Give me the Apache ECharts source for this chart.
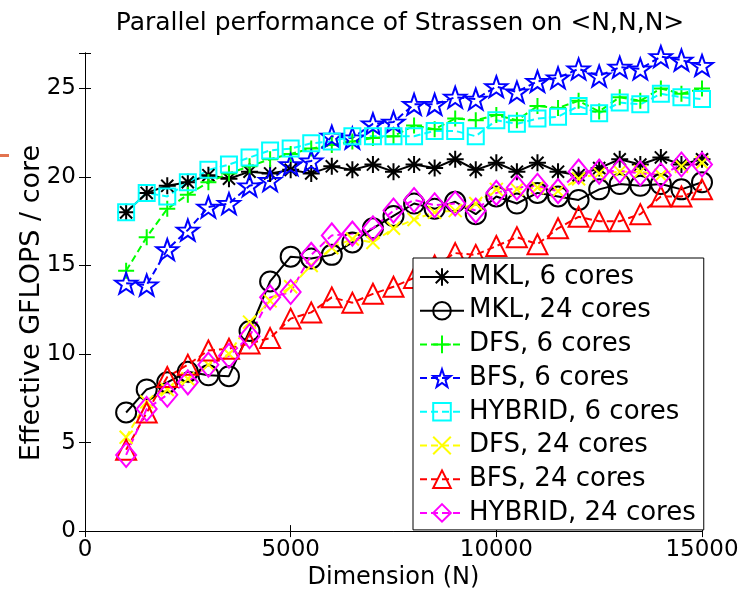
<!DOCTYPE html>
<html>
<head>
<meta charset="utf-8">
<script src="https://cdn.jsdelivr.net/npm/echarts@6/dist/echarts.min.js"></script>
<style>
  html, body { margin: 0; padding: 0; background: #fff; }
  #chart { width: 744px; height: 595px; }
</style>
</head>
<body>
<div id="chart"></div>
<script>
// matrix dimension N
var dims = [1000, 1500, 2000, 2500, 3000, 3500, 4000, 4500, 5000, 5500, 6000, 6500, 7000, 7500,
  8000, 8500, 9000, 9500, 10000, 10500, 11000, 11500, 12000, 12500, 13000, 13500, 14000, 14500, 15000];

// effective GFLOPS / core
var mkl6 = [18.0, 19.1, 19.5, 19.7, 20.1, 19.9, 20.3, 20.2, 20.4, 20.2, 20.6, 20.4, 20.7, 20.3,
  20.7, 20.5, 21.0, 20.4, 20.8, 20.3, 20.8, 20.3, 20.1, 20.5, 21.0, 20.7, 21.1, 20.7, 21.0];
var mkl24 = [6.7, 8.0, 8.4, 9.0, 8.8, 8.75, 11.3, 14.1, 15.5, 15.4, 15.6, 16.3, 17.1, 17.8,
  18.5, 18.2, 18.6, 17.9, 18.9, 18.5, 19.1, 18.9, 18.7, 19.3, 19.6, 19.5, 19.6, 19.3, 19.7];
var dfs6 = [14.7, 16.6, 18.2, 19.0, 19.7, 20.2, 20.6, 21.0, 21.3, 21.6, 21.8, 22.0, 22.2, 22.3,
  22.9, 22.7, 23.3, 23.2, 23.5, 23.2, 24.0, 23.9, 24.3, 23.7, 24.5, 24.3, 25.0, 24.7, 25.0];
var bfs6 = [14.0, 13.9, 15.9, 17.0, 18.3, 18.5, 19.5, 19.8, 20.7, 20.9, 22.3, 22.2, 23.0, 23.1,
  24.1, 24.1, 24.5, 24.4, 25.1, 24.8, 25.4, 25.6, 26.1, 25.7, 26.2, 26.1, 26.8, 26.6, 26.3];
var hybrid6 = [18.0, 19.1, 18.9, 19.7, 20.4, 20.7, 21.1, 21.5, 21.6, 21.9, 22.0, 22.3, 22.3, 22.3,
  22.3, 22.6, 22.6, 22.3, 23.2, 23.0, 23.3, 23.4, 24.0, 23.6, 24.2, 24.1, 24.7, 24.5, 24.4];
var dfs24 = [5.3, 7.3, 8.0, 8.6, 9.4, 10.0, 11.8, 13.0, 13.8, 15.0, 16.0, 16.5, 16.3, 17.1,
  17.6, 18.0, 18.1, 18.5, 19.3, 19.3, 19.4, 19.2, 19.9, 20.2, 20.3, 20.3, 20.1, 20.6, 20.8];
var bfs24 = [4.6, 6.7, 8.7, 9.4, 10.2, 10.3, 10.6, 10.9, 12.0, 12.35, 13.2, 12.9, 13.4, 13.8,
  14.3, 15.0, 15.7, 15.6, 16.1, 16.6, 16.2, 17.1, 17.75, 17.5, 17.5, 17.9, 18.9, 18.9, 19.3];
var hybrid24 = [4.3, 6.9, 7.7, 8.4, 9.4, 9.9, 11.0, 13.2, 13.5, 15.6, 16.7, 16.8, 17.1, 18.1,
  18.7, 18.4, 18.5, 18.1, 19.1, 19.4, 19.5, 19.2, 20.3, 20.3, 20.35, 20.2, 20.1, 20.7, 20.7];

var xTicks = [0, 5000, 10000, 15000];
var yTicks = [0, 5, 10, 15, 20, 25];

var FONT = 'DejaVu Sans';

// marker shapes (outlines only, like matlab)
var asterisk = 'path://M0,-8L0,8M-8,0L8,0M-5.7,-5.7L5.7,5.7M-5.7,5.7L5.7,-5.7';
var plus = 'path://M0,-8L0,8M-8,0L8,0';
var cross = 'path://M-6,-6L6,6M-6,6L6,-6';
var star = 'path://M0,-10L2.35,-3.24L9.51,-3.09L3.8,1.24L5.88,8.09L0,4L-5.88,8.09L-3.8,1.24L-9.51,-3.09L-2.35,-3.24Z';

function pairs(vals) {
  return dims.map(function (d, i) { return [d, vals[i]]; });
}

function makeSeries(name, vals, color, symbol, size, dashed) {
  return {
    name: name,
    type: 'line',
    data: pairs(vals),
    symbol: symbol,
    symbolSize: size,
    symbolKeepAspect: true,
    showSymbol: true,
    showAllSymbol: true,
    lineStyle: { color: color, width: 2, type: dashed ? [7, 4] : 'solid' },
    itemStyle: { color: 'rgba(0,0,0,0)', borderColor: color, borderWidth: 2 },
    emphasis: { disabled: true },
    z: 3
  };
}

var chart = echarts.init(document.getElementById('chart'));
chart.setOption({
  animation: false,
  backgroundColor: '#fff',
  title: {
    text: 'Parallel performance of Strassen on <N,N,N>',
    left: 395,
    top: 6,
    textAlign: 'center',
    textStyle: { fontFamily: FONT, fontSize: 25, fontWeight: 'normal', color: '#000' }
  },
  graphic: [
    { type: 'rect', left: 0, top: 154, shape: { width: 9, height: 3 }, style: { fill: '#e2734f' } }
  ],
  grid: { left: 85, right: 42, top: 53, bottom: 59 },
  legend: {
    orient: 'vertical',
    left: 413,
    top: 258,
    padding: [6, 8, 4, 6],
    itemWidth: 44,
    itemHeight: 22,
    itemGap: 7.7,
    backgroundColor: '#fff',
    borderColor: '#000',
    borderWidth: 1,
    borderRadius: 0,
    textStyle: { fontFamily: FONT, fontSize: 26, color: '#000' },
    data: ['MKL, 6 cores', 'MKL, 24 cores', 'DFS, 6 cores', 'BFS, 6 cores',
      'HYBRID, 6 cores', 'DFS, 24 cores', 'BFS, 24 cores', 'HYBRID, 24 cores']
  },
  xAxis: [{
    type: 'value',
    min: 0, max: 15000, interval: 5000,
    name: 'Dimension (N)',
    nameLocation: 'middle',
    nameGap: 30,
    nameTextStyle: { fontFamily: FONT, fontSize: 24, color: '#000' },
    axisLine: { lineStyle: { color: '#000', width: 1 } },
    axisTick: { inside: true, length: 6, lineStyle: { color: '#000' } },
    axisLabel: { fontFamily: FONT, fontSize: 23, color: '#000', margin: 7,
      formatter: function (v) { return xTicks.indexOf(v) >= 0 ? String(v) : ''; } },
    splitLine: { show: false }
  }, {
    type: 'value', position: 'top',
    min: 0, max: 15000, interval: 5000,
    axisLine: { lineStyle: { color: '#000', width: 1 } },
    axisTick: { inside: true, length: 6, lineStyle: { color: '#000' } },
    axisLabel: { show: false },
    splitLine: { show: false }
  }],
  yAxis: [{
    type: 'value',
    min: 0, max: 27, interval: 5,
    name: 'Effective GFLOPS / core',
    nameLocation: 'middle',
    nameGap: 40,
    nameMoveOverlap: false,
    nameTextStyle: { fontFamily: FONT, fontSize: 27, color: '#000', padding: [0, 22, 0, 0] },
    axisLine: { show: true, lineStyle: { color: '#000', width: 1 } },
    axisTick: { show: true, inside: true, length: 6, lineStyle: { color: '#000' } },
    axisLabel: { fontFamily: FONT, fontSize: 23, color: '#000', margin: 9,
      formatter: function (v) { return yTicks.indexOf(v) >= 0 ? String(v) : ''; } },
    splitLine: { show: false }
  }, {
    type: 'value', position: 'right',
    min: 0, max: 27, interval: 5,
    axisLine: { show: true, lineStyle: { color: '#000', width: 1 } },
    axisTick: { show: true, inside: true, length: 6, lineStyle: { color: '#000' } },
    axisLabel: { show: false },
    splitLine: { show: false }
  }],
  series: [
    makeSeries('MKL, 6 cores', mkl6, '#000000', asterisk, 17, false),
    makeSeries('MKL, 24 cores', mkl24, '#000000', 'circle', 20, false),
    makeSeries('DFS, 6 cores', dfs6, '#00ff00', plus, 16, true),
    makeSeries('BFS, 6 cores', bfs6, '#0000ff', star, 22, true),
    makeSeries('HYBRID, 6 cores', hybrid6, '#00ffff', 'rect', 16, true),
    makeSeries('DFS, 24 cores', dfs24, '#ffff00', cross, 13, true),
    makeSeries('BFS, 24 cores', bfs24, '#ff0000', 'triangle', 20, true),
    makeSeries('HYBRID, 24 cores', hybrid24, '#ff00ff', 'diamond', [20, 24], true)
  ]
});
</script>
</body>
</html>
